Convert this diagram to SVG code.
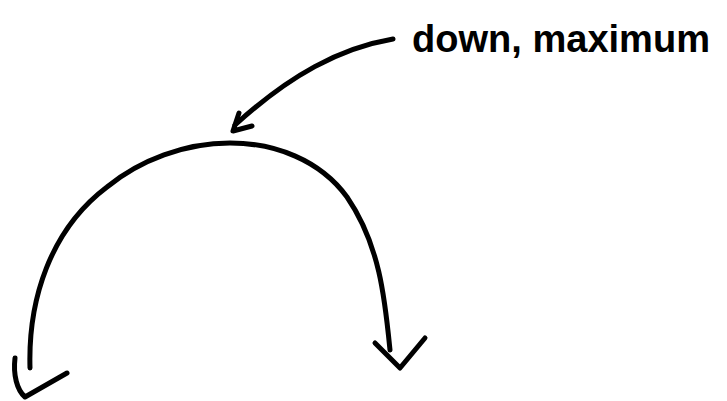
<svg xmlns="http://www.w3.org/2000/svg" width="727" height="401" viewBox="0 0 727 401">
<style>
.s{fill:none;stroke:#000;stroke-width:5;stroke-linecap:round;stroke-linejoin:round}
.t{font-family:"Liberation Sans",sans-serif;font-size:38px;fill:#000;font-weight:bold}
</style>
<rect width="727" height="401" fill="#fff"/>
<g id="label">
<text class="t" x="412" y="52" textLength="298" lengthAdjust="spacingAndGlyphs">down, maximum</text>
</g>
<g id="connectors">
<path class="s" d="M393,39 C340,48 290,75 235,125"/>
<path class="s" d="M239,113 L233,131 L252,126"/>
<path class="s" d="M30,368 C28,300 50,230 107,187 C140,160 185,143 230,143 C275,143 320,160 347,197 C380,245 385,300 390,350"/>
<path class="s" d="M15,358 C13,375 17,390 25,397 L67,373"/>
<path class="s" d="M375,343 L400,368 L425,338"/>
</g>
</svg>
